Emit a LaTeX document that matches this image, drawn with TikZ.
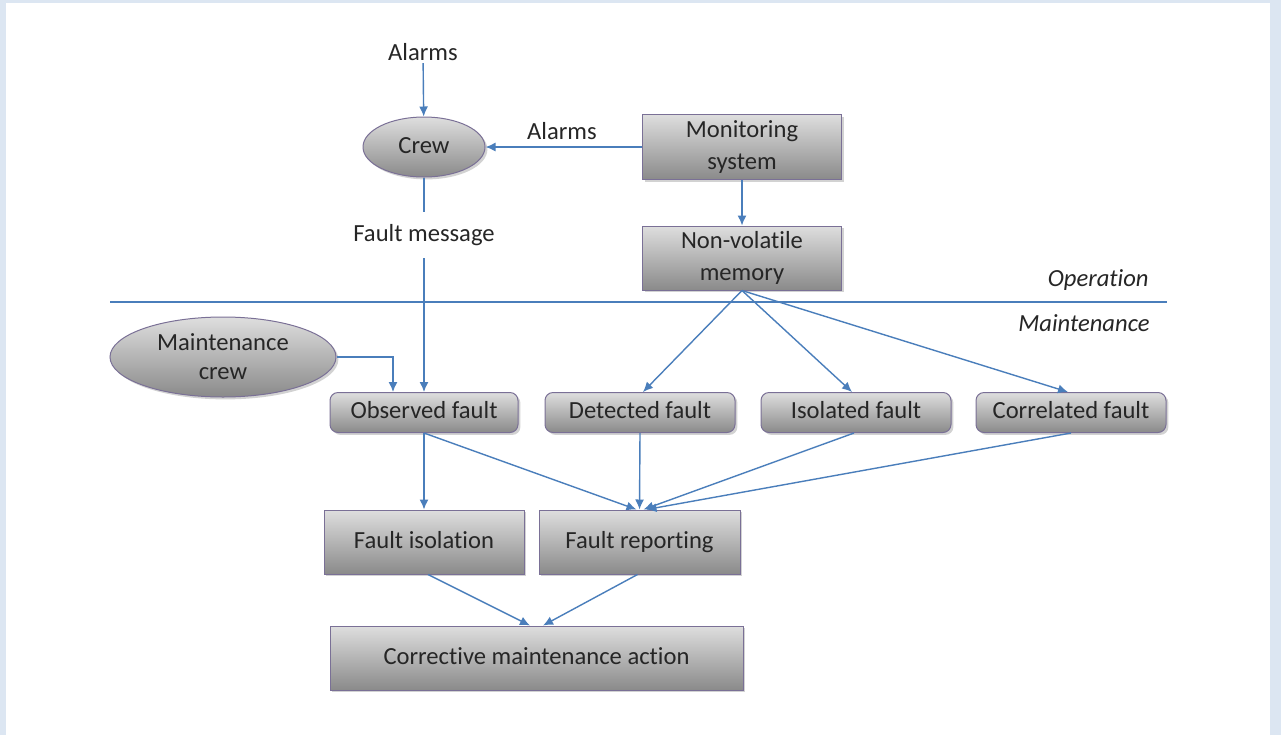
\documentclass[tikz,border=0pt]{standalone}
\usepackage{fontspec}
\setmainfont[Ligatures=NoCommon]{Carlito}
\usetikzlibrary{shapes.geometric,arrows.meta,shadows,calc}
\definecolor{bgblue}{RGB}{220,230,242}
\definecolor{linkblue}{RGB}{74,126,187}
\definecolor{boxborder}{RGB}{122,112,150}
\definecolor{boxtop}{RGB}{222,222,222}
\definecolor{boxbot}{RGB}{138,138,138}
\begin{document}
\begin{tikzpicture}[x=0.5pt,y=-0.5pt,
  every node/.style={font=\fontsize{12.3}{16}\selectfont, text=black!85},
  rectbox/.style={draw=boxborder, line width=0.5pt, top color=boxtop, bottom color=boxbot,
    drop shadow={shadow xshift=1.2pt, shadow yshift=-1.2pt, opacity=0.35},
    inner sep=0pt, align=center},
  oneline/.style={text height=8.6pt, text depth=2.6pt},
  rbox/.style={rectbox, oneline, rounded corners=4pt},
  ellbox/.style={rectbox, ellipse},
  lbl/.style={inner sep=1pt},
  conn/.style={draw=linkblue, line width=0.7pt},
  arr/.style={conn, -{Latex[length=5pt,width=4.5pt]}}
]
\useasboundingbox (0,0) rectangle (1281,735);
\fill[bgblue] (0,0) rectangle (1281,735);
\fill[white] (6,3) rectangle (1270,735);

% operation / maintenance divider
\coordinate (divL) at (110,302);
\coordinate (divR) at (1167,302);
\draw[conn] (divL) -- (divR);
\node[lbl, anchor=east, font=\fontsize{12.3}{16}\selectfont\itshape] (oplbl) at (1151,280) {Operation};
\node[lbl, anchor=east, font=\fontsize{12.3}{16}\selectfont\itshape] (mtlbl) at (1152,323) {Maintenance};

% nodes
\node[lbl] (alarmsTop) at (423,52) {Alarms};
\node[ellbox, oneline, minimum width=61pt, minimum height=30pt] (crew) at (424,147) {Crew};
\node[rectbox, minimum width=99.5pt, minimum height=32.5pt] (mon) at (742,147) {Monitoring\\system};
\node[lbl] (alarmsMid) at (562,131) {Alarms};
\node[rectbox, minimum width=99.5pt, minimum height=32pt] (nvm) at (742,258) {Non-volatile\\memory};
\node[inner xsep=1pt, inner ysep=5.5pt, text height=9pt, text depth=3pt] (fm) at (424,235) {Fault message};

\node[ellbox, minimum width=113pt, minimum height=40pt, font=\fontsize{12.3}{14.5}\selectfont] (mcrew) at (223,357) {Maintenance\\crew};

\node[rbox, minimum width=94pt, minimum height=20pt] (obs) at (424,412.5) {Observed fault};
\node[rbox, minimum width=95pt, minimum height=20pt] (det) at (640,412.5) {Detected fault};
\node[rbox, minimum width=95pt, minimum height=20pt] (iso) at (856,412.5) {Isolated fault};
\node[rbox, minimum width=95pt, minimum height=20pt] (cor) at (1071,412.5) {Correlated fault};

\node[rectbox, oneline, minimum width=100pt, minimum height=32pt] (fiso) at (424,542) {Fault isolation};
\node[rectbox, oneline, minimum width=100.5pt, minimum height=32pt] (frep) at (639.5,542) {Fault reporting};
\node[rectbox, oneline, minimum width=206.5pt, minimum height=32pt] (cma) at (536.5,658) {Corrective maintenance action};

% connectors
\draw[arr] (alarmsTop) -- (crew);
\draw[arr] (mon.west) -- (crew.east);
\draw[arr] (mon) -- (nvm);
\draw[conn] (crew.south) -- (fm.north);
\draw[arr] (fm.south) -- (obs.north);
\draw[arr] (mcrew.east) -| ($(obs.north)+(-31,0)$);

\draw[arr] (nvm.south) -- ($(det.north)+(3,0)$);
\draw[arr] (nvm.south) -- ($(iso.north)+(-4,0)$);
\draw[arr] (nvm.south) -- ($(cor.north)+(-3,0)$);

\draw[arr] (obs.south) -- (fiso.north);
\draw[arr] (obs.south) -- ($(frep.north)+(-3,0)$);
\draw[arr] (det.south) -- (frep.north);
\draw[arr] ($(iso.south)+(-2,0)$) -- ($(frep.north)+(4,0)$);
\draw[arr] (cor.south) -- ($(frep.north)+(7,0)$);

\draw[arr] ($(fiso.south)+(4,0)$) -- ($(cma.north)+(-6.5,0)$);
\draw[arr] ($(frep.south)+(-2,0)$) -- ($(cma.north)+(6.5,0)$);
\end{tikzpicture}
\end{document}
